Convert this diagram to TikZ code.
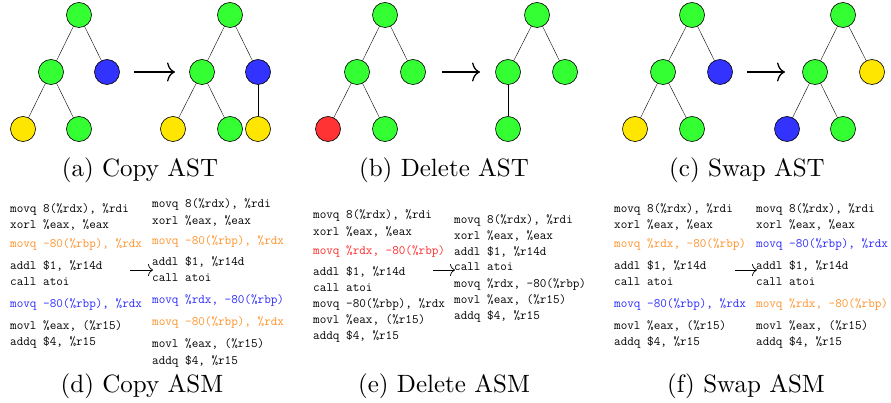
\documentclass[tikz,border=0pt]{standalone}
\usepackage{tikz}
\usetikzlibrary{arrows.meta}

\definecolor{astgreen}{RGB}{51,255,51}
\definecolor{astblue}{RGB}{51,51,255}
\definecolor{astyellow}{RGB}{255,230,0}
\definecolor{astred}{RGB}{255,51,51}
\definecolor{asmorange}{RGB}{255,145,40}
\definecolor{asmblue}{RGB}{40,40,255}
\definecolor{asmred}{RGB}{255,40,40}

\tikzset{
  astnode/.style={circle, draw=black, line width=0.6pt, minimum size=25pt, inner sep=0pt},
  gnode/.style={astnode, fill=astgreen},
  bnode/.style={astnode, fill=astblue},
  ynode/.style={astnode, fill=astyellow},
  rnode/.style={astnode, fill=astred},
  asm/.style={anchor=base west, inner sep=0pt, align=left,
    font=\ttfamily\fontsize{12.8}{16}\selectfont},
  subcap/.style={anchor=base, inner sep=0pt, scale=2.5, font=\normalsize},
  bigarrow/.style={-{Computer Modern Rightarrow[length=8pt, width=19pt]}, line width=1.3pt},
  smallarrow/.style={-{Computer Modern Rightarrow[length=5pt, width=12pt]}, line width=0.7pt}
}

\begin{document}
\begin{tikzpicture}[x=1pt, y=-1pt]
  \useasboundingbox (0,0) rectangle (891,403);

  % (a) copy AST
  \node[gnode] (cpl-root) at (79,15)  {};
  \node[gnode] (cpl-m)    at (51,72)  {};
  \node[bnode] (cpl-r)    at (107,72) {};
  \node[ynode] (cpl-ll)   at (23,129) {};
  \node[gnode] (cpl-lr)   at (79,129) {};
  \path (cpl-root) edge (cpl-m)
        (cpl-root) edge (cpl-r)
        (cpl-m)    edge (cpl-ll)
        (cpl-m)    edge (cpl-lr);

  \node[gnode] (cpr-root) at (230,15)  {};
  \node[gnode] (cpr-m)    at (202,72)  {};
  \node[bnode] (cpr-r)    at (258,72)  {};
  \node[ynode] (cpr-ll)   at (173,129) {};
  \node[gnode] (cpr-lr)   at (230,129) {};
  \node[ynode] (cpr-rr)   at (258,129) {};
  \path (cpr-root) edge (cpr-m)
        (cpr-root) edge (cpr-r)
        (cpr-m)    edge (cpr-ll)
        (cpr-m)    edge (cpr-lr)
        (cpr-r)    edge (cpr-rr);

  \coordinate (cp-from) at (134,72);
  \coordinate (cp-to)   at (175,72);
  \draw[bigarrow] (cp-from) -- (cp-to);
  \node[subcap] (cap-a) at (140,177) {(a) Copy AST};

  % (b) delete AST
  \node[gnode] (dll-root) at (385,15)  {};
  \node[gnode] (dll-m)    at (357,72)  {};
  \node[gnode] (dll-r)    at (413,72)  {};
  \node[rnode] (dll-ll)   at (328,129) {};
  \node[gnode] (dll-lr)   at (385,129) {};
  \path (dll-root) edge (dll-m)
        (dll-root) edge (dll-r)
        (dll-m)    edge (dll-ll)
        (dll-m)    edge (dll-lr);

  \node[gnode] (dlr-root) at (537,15)  {};
  \node[gnode] (dlr-m)    at (508,72)  {};
  \node[gnode] (dlr-r)    at (565,72)  {};
  \node[gnode] (dlr-l)    at (508,129) {};
  \path (dlr-root) edge (dlr-m)
        (dlr-root) edge (dlr-r)
        (dlr-m)    edge (dlr-l);

  \coordinate (dl-from) at (442,72);
  \coordinate (dl-to)   at (480,72);
  \draw[bigarrow] (dl-from) -- (dl-to);
  \node[subcap] (cap-b) at (444,177) {(b) Delete AST};

  % (c) swap AST
  \node[gnode] (swl-root) at (692,15)  {};
  \node[gnode] (swl-m)    at (663,72)  {};
  \node[bnode] (swl-r)    at (720,72)  {};
  \node[ynode] (swl-ll)   at (635,129) {};
  \node[gnode] (swl-lr)   at (692,129) {};
  \path (swl-root) edge (swl-m)
        (swl-root) edge (swl-r)
        (swl-m)    edge (swl-ll)
        (swl-m)    edge (swl-lr);

  \node[gnode] (swr-root) at (843,15)  {};
  \node[gnode] (swr-m)    at (815,72)  {};
  \node[ynode] (swr-r)    at (872,72)  {};
  \node[bnode] (swr-ll)   at (787,129) {};
  \node[gnode] (swr-lr)   at (843,129) {};
  \path (swr-root) edge (swr-m)
        (swr-root) edge (swr-r)
        (swr-m)    edge (swr-ll)
        (swr-m)    edge (swr-lr);

  \coordinate (sw-from) at (747,72);
  \coordinate (sw-to)   at (785,72);
  \draw[bigarrow] (sw-from) -- (sw-to);
  \node[subcap] (cap-c) at (747,177) {(c) Swap AST};

  % (d) copy ASM -- base anchor sits on the last line
  \node[asm] (cpasm-old) at (10,345) {movq 8(\%rdx), \%rdi\\
    xorl \%eax, \%eax\\[3pt]
    \textcolor{asmorange}{movq -80(\%rbp), \%rdx}\\[6pt]
    addl \$1, \%r14d\\
    call atoi\\[6pt]
    \textcolor{asmblue}{movq -80(\%rbp), \%rdx}\\[6pt]
    movl \%eax, (\%r15)\\
    addq \$4, \%r15};
  \node[asm] (cpasm-new) at (152,364) {movq 8(\%rdx), \%rdi\\[1pt]
    xorl \%eax, \%eax\\[4pt]
    \textcolor{asmorange}{movq -80(\%rbp), \%rdx}\\[5pt]
    addl \$1, \%r14d\\
    call atoi\\[6pt]
    \textcolor{asmblue}{movq \%rdx, -80(\%rbp)}\\[6pt]
    \textcolor{asmorange}{movq -80(\%rbp), \%rdx}\\[6pt]
    movl \%eax, (\%r15)\\[1pt]
    addq \$4, \%r15};
  \coordinate (cpasm-from) at (130,270);
  \coordinate (cpasm-to)   at (153,270);
  \draw[smallarrow] (cpasm-from) -- (cpasm-to);
  \node[subcap] (cap-d) at (142,392) {(d) Copy ASM};

  % (e) delete ASM
  \node[asm] (dlasm-old) at (313,339) {movq 8(\%rdx), \%rdi\\[1pt]
    xorl \%eax, \%eax\\[3pt]
    \textcolor{asmred}{movq \%rdx, -80(\%rbp)}\\[5pt]
    addl \$1, \%r14d\\
    call atoi\\
    movq -80(\%rbp), \%rdx\\
    movl \%eax, (\%r15)\\
    addq \$4, \%r15};
  \node[asm] (dlasm-new) at (454,319) {movq 8(\%rdx), \%rdi\\
    xorl \%eax, \%eax\\
    addl \$1, \%r14d\\
    call atoi\\
    movq \%rdx, -80(\%rbp)\\
    movl \%eax, (\%r15)\\
    addq \$4, \%r15};
  \coordinate (dlasm-from) at (433,270);
  \coordinate (dlasm-to)   at (455,270);
  \draw[smallarrow] (dlasm-from) -- (dlasm-to);
  \node[subcap] (cap-e) at (444,392) {(e) Delete ASM};

  % (f) swap ASM
  \node[asm] (swasm-old) at (614,345) {movq 8(\%rdx), \%rdi\\
    xorl \%eax, \%eax\\[3pt]
    \textcolor{asmorange}{movq \%rdx, -80(\%rbp)}\\[6pt]
    addl \$1, \%r14d\\
    call atoi\\[6pt]
    \textcolor{asmblue}{movq -80(\%rbp), \%rdx}\\[6pt]
    movl \%eax, (\%r15)\\
    addq \$4, \%r15};
  \node[asm] (swasm-new) at (756,345) {movq 8(\%rdx), \%rdi\\
    xorl \%eax, \%eax\\[3pt]
    \textcolor{asmblue}{movq -80(\%rbp), \%rdx}\\[6pt]
    addl \$1, \%r14d\\
    call atoi\\[6pt]
    \textcolor{asmorange}{movq \%rdx, -80(\%rbp)}\\[6pt]
    movl \%eax, (\%r15)\\
    addq \$4, \%r15};
  \coordinate (swasm-from) at (735,270);
  \coordinate (swasm-to)   at (757,270);
  \draw[smallarrow] (swasm-from) -- (swasm-to);
  \node[subcap] (cap-f) at (746,392) {(f) Swap ASM};
\end{tikzpicture}
\end{document}
